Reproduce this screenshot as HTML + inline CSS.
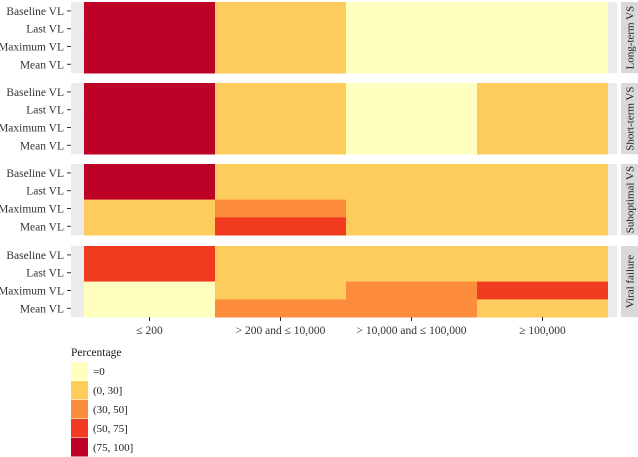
<!DOCTYPE html>
<html><head><meta charset="utf-8">
<style>
html,body{margin:0;padding:0;background:#fff;}
svg{display:block;font-family:"Liberation Serif",serif;}
</style></head>
<body>
<svg id="chart" width="638" height="457"></svg>
<script>
const facets = ["Long-term VS","Short-term VS","Suboptimal VS","Viral failure"];
const rowsLabels = ["Baseline VL","Last VL","Maximum VL","Mean VL"];
const columns = ["\u2264 200","> 200 and \u2264 10,000","> 10,000 and \u2264 100,000","\u2265 100,000"];
const longTerm = [[90,10,0,0],[90,10,0,0],[90,10,0,0],[90,10,0,0]];
const shortTerm = [[90,8,0,2],[90,8,0,2],[90,8,0,2],[90,8,0,2]];
const suboptimal = [[80,10,5,5],[80,10,5,5],[25,40,20,15],[20,60,10,10]];
const viralFailure = [[60,20,10,10],[60,20,10,10],[0,20,40,60],[0,40,40,20]];
const legendLabels = ["=0","(0, 30]","(30, 50]","(50, 75]","(75, 100]"];
const legendColors = ["#ffffbf","#fecc5c","#fd8d3c","#f03b20","#bd0026"];
const allData = [longTerm, shortTerm, suboptimal, viralFailure];

const NS="http://www.w3.org/2000/svg";
const svg=document.getElementById('chart');
function el(t,a,p){const e=document.createElementNS(NS,t);for(const k in a)e.setAttribute(k,a[k]);(p||svg).appendChild(e);return e;}
function bin(v){if(v<=0)return 0;if(v<=30)return 1;if(v<=50)return 2;if(v<=75)return 3;return 4;}
const tileX0=84, tileW=131, panelX0=71, panelX1=617;
const panelTops=[2,83,164,246], rowH=17.8;
function xPos(i){return tileX0+i*tileW;}
function yPos(f,r){return panelTops[f]+r*rowH;}

facets.forEach((fname,f)=>{
  const g=el('g',{});
  
  
  const bg=el('rect',{x:panelX0,y:panelTops[f],width:panelX1-panelX0,height:rowH*4,fill:'#ebebeb'},g);
  
  
  allData[f].forEach((row,r)=>{
    row.forEach((v,c)=>{
      const t=el('rect',{x:xPos(c),y:yPos(f,r),width:tileW,height:rowH+0.3,fill:legendColors[bin(v)]},g);
      
      
    });
    const ty=yPos(f,r)+rowH/2;
    const lab=el('text',{x:64,y:ty+4,'text-anchor':'end','font-size':'11.5',fill:'#333'},g);
    lab.textContent=rowsLabels[r];
    
    
    el('line',{x1:67,x2:71,y1:ty,y2:ty,stroke:'#333','stroke-width':1},g);
  });
  const sx=621, sy=panelTops[f], sh=rowH*4;
  const strip=el('rect',{x:sx,y:sy,width:17,height:sh,fill:'#d9d9d9'},g);
  
  
  const st=el('text',{x:0,y:0,'text-anchor':'middle','font-size':'11',fill:'#1a1a1a',transform:`translate(${sx+12.5},${sy+sh/2}) rotate(-90)`},g);
  st.textContent=fname;
  
  
});
columns.forEach((c,i)=>{
  const cx=xPos(i)+tileW/2;
  el('line',{x1:cx,x2:cx,y1:317,y2:321,stroke:'#333'});
  const t=el('text',{x:cx,y:334,'text-anchor':'middle','font-size':'11.5',fill:'#333'});
  t.textContent=c;
  
  
});
const lt=el('text',{x:71,y:356,'font-size':'11.5',fill:'#1a1a1a'});
lt.textContent="Percentage";


legendLabels.forEach((l,i)=>{
  const y=362+i*19;
  const r=el('rect',{x:71,y:y,width:17,height:18.5,fill:legendColors[i]});
  
  
  const t=el('text',{x:93,y:y+13,'font-size':'11',fill:'#1a1a1a'});
  t.textContent=l;
  
  
});
</script>
</body></html>
